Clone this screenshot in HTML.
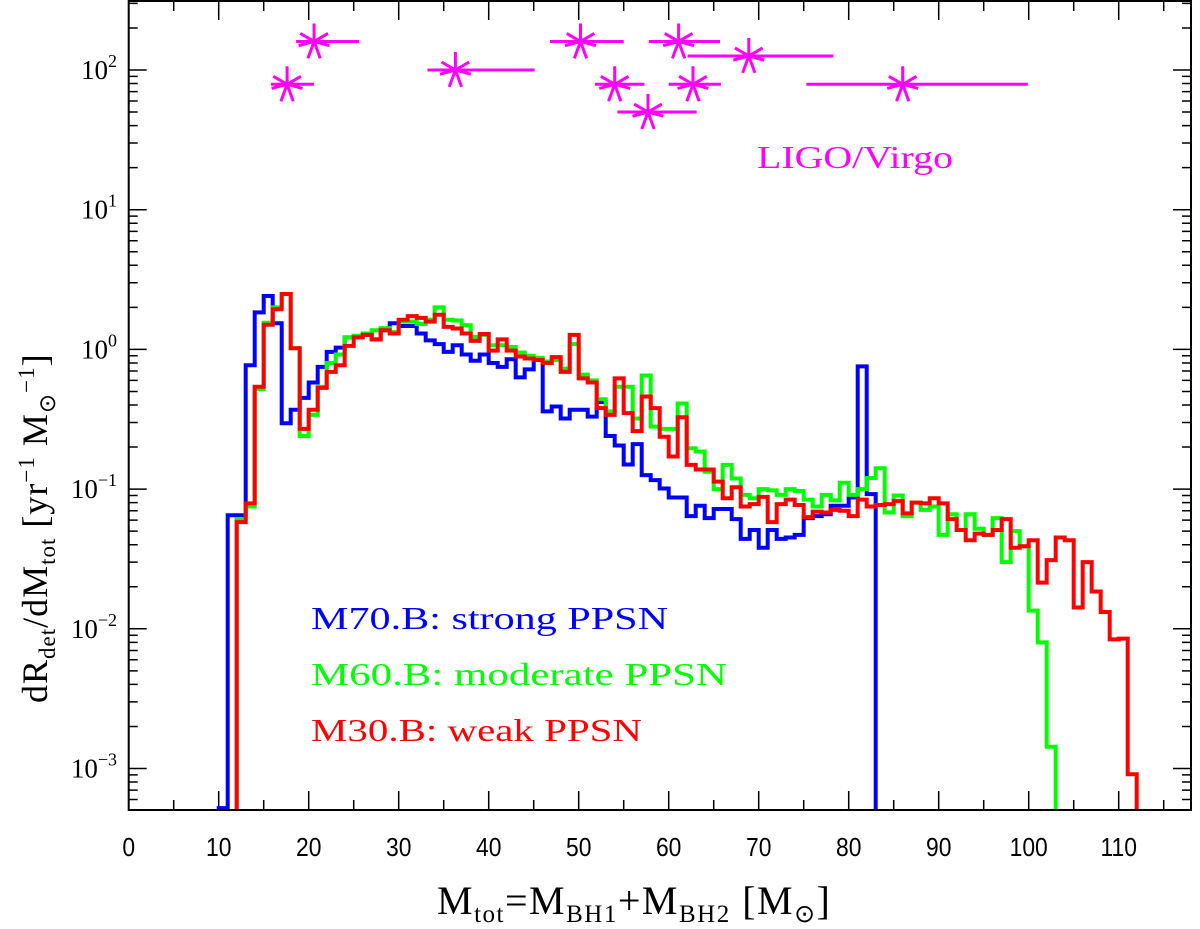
<!DOCTYPE html>
<html><head><meta charset="utf-8"><style>
html,body{margin:0;padding:0;background:#fff;}
svg{display:block;}
</style></head><body>
<svg id="chart" width="1200" height="929" viewBox="0 0 1200 929" xmlns="http://www.w3.org/2000/svg">
  <defs><clipPath id="plotclip"><rect x="128.7" y="1" width="1062.3" height="809"/></clipPath></defs>
  <g id="ticks"></g>
  <g id="series" clip-path="url(#plotclip)"></g>
  <g id="ligo"></g>
  <rect x="128.7" y="1" width="1062.3" height="809" fill="none" stroke="#000" stroke-width="2"/>
  <g id="xlabels" font-family="'Liberation Sans', sans-serif" font-size="26" text-anchor="middle"></g>
  <g id="ylabels" font-family="'Liberation Serif', serif" font-size="27" text-anchor="end"></g>
  <text x="437" y="914" font-family="'Liberation Serif', serif" font-size="40" letter-spacing="1.5">M<tspan font-size="25" dy="8">tot</tspan><tspan dy="-8">=M</tspan><tspan font-size="25" dy="8">BH1</tspan><tspan dy="-8">+M</tspan><tspan font-size="25" dy="8">BH2</tspan><tspan dy="-8">  [M</tspan><tspan font-size="25" dy="8">⊙</tspan><tspan dy="-8">]</tspan></text>
  <text transform="translate(47,703) rotate(-90)" font-family="'Liberation Serif', serif" font-size="36" letter-spacing="1">dR<tspan font-size="23" dy="8">det</tspan><tspan dy="-8">/dM</tspan><tspan font-size="23" dy="8">tot</tspan><tspan dy="-8">  [yr</tspan><tspan font-size="23" dy="-13">−1</tspan><tspan dy="13"> M</tspan><tspan font-size="23" dy="8">⊙</tspan><tspan font-size="23" dy="-21">−1</tspan><tspan dy="13">]</tspan></text>
  <g font-family="'Liberation Serif', serif" font-size="32">
    <text x="311" y="629" fill="#0000ff" textLength="357" lengthAdjust="spacingAndGlyphs">M70.B: strong PPSN</text>
    <text x="311" y="685" fill="#00ff00" textLength="416" lengthAdjust="spacingAndGlyphs">M60.B: moderate PPSN</text>
    <text x="311" y="741" fill="#ff0000" textLength="331" lengthAdjust="spacingAndGlyphs">M30.B: weak PPSN</text>
  </g>
  <text x="757" y="168" fill="#ff00ff" font-family="'Liberation Serif', serif" font-size="32" textLength="196" lengthAdjust="spacingAndGlyphs">LIGO/Virgo</text>
</svg>
<script>
const binStart = 10;
const blueVals = [0.00052,0.065,0.065,0.77,1.84,2.41,1.54,0.296,0.37,0.45,0.58,0.75,0.96,1.03,1.22,1.25,1.27,1.18,1.37,1.54,1.47,1.47,1.3,1.16,1.09,0.96,1.07,0.92,0.83,0.92,0.80,0.75,0.85,0.63,0.72,0.84,0.36,0.39,0.32,0.37,0.37,0.33,0.42,0.24,0.205,0.15,0.21,0.126,0.116,0.101,0.087,0.087,0.064,0.076,0.062,0.072,0.072,0.061,0.044,0.051,0.038,0.051,0.044,0.045,0.047,0.062,0.064,0.066,0.076,0.076,0.087,0.756,0.092];
const greenVals = [0,0,0.061,0.075,0.52,1.55,2.0,2.49,1.02,0.24,0.34,0.54,0.80,0.92,1.22,1.25,1.30,1.37,1.42,1.33,1.58,1.58,1.52,1.63,2.0,1.63,1.61,1.49,1.23,1.27,1.07,1.07,1.04,0.95,0.90,0.87,0.82,0.84,0.73,1.09,0.66,0.60,0.44,0.36,0.54,0.54,0.32,0.65,0.28,0.27,0.27,0.41,0.196,0.186,0.133,0.10,0.149,0.119,0.091,0.086,0.10,0.098,0.091,0.10,0.097,0.084,0.075,0.091,0.083,0.111,0.091,0.10,0.12,0.141,0.068,0.090,0.064,0.080,0.071,0.075,0.047,0.066,0.051,0.066,0.052,0.047,0.062,0.030,0.050,0.039,0.0135,0.0080,0.00143];
const redVals = [0,0,0.058,0.079,0.54,1.50,1.94,2.49,1.02,0.27,0.37,0.53,0.69,0.77,1.06,1.22,1.27,1.18,1.37,1.3,1.63,1.73,1.68,1.58,1.77,1.45,1.41,1.3,1.15,1.29,0.98,1.18,0.98,0.89,0.86,0.84,0.8,0.88,0.69,1.27,0.62,0.58,0.38,0.34,0.62,0.35,0.26,0.46,0.38,0.237,0.171,0.327,0.149,0.138,0.138,0.113,0.086,0.103,0.075,0.078,0.088,0.058,0.078,0.084,0.077,0.063,0.069,0.068,0.071,0.070,0.064,0.084,0.075,0.077,0.078,0.082,0.067,0.080,0.079,0.086,0.079,0.061,0.051,0.043,0.048,0.047,0.051,0.061,0.038,0.039,0.043,0.0214,0.031,0.045,0.043,0.0142,0.030,0.0185,0.0132,0.0084,0.0085,0.00091];
const ligoMass = [17.6,20.6,36.3,50.2,54.0,57.7,61.1,62.7,68.9,86.0];
const ligoRate = [79,160,100,160,79,50,160,79,126,79];
const ligoLo = [15.8,18.6,33.2,46.8,51.8,54.3,57.8,60.0,62.1,75.3];
const ligoHi = [20.6,25.6,45.1,55.0,57.3,63.1,65.7,65.8,78.3,99.9];
const xTicks = [0,10,20,30,40,50,60,70,80,90,100,110];
const yTickExps = [-3,-2,-1,0,1,2];

const NS='http://www.w3.org/2000/svg';
const X0=128.7, PX=9.0, XR=1191, YT=1, YB=810;
const Y2=70, DEC=139.7;
function xs(m){return X0+m*PX;}
function ys(v){return Y2+(2-Math.log10(v))*DEC;}
function mk(tag,attrs,parent){const e=document.createElementNS(NS,tag);for(const k in attrs)e.setAttribute(k,attrs[k]);parent.appendChild(e);return e;}

const tg=document.getElementById('ticks');
let td='';
for(let m=5;m<118;m+=5){const L=(m%10===0)?19:10;const x=xs(m);td+=`M${x} ${YB}V${YB-L}M${x} ${YT}V${YT+L}`;}
for(let e=-4;e<=2;e++){for(let k=1;k<10;k++){const v=k*Math.pow(10,e);const y=ys(v);if(y<YT||y>YB)continue;const L=k===1?18:9;td+=`M${X0} ${y}H${X0+L}M${XR} ${y}H${XR-L}`;}}
const tp=mk('path',{d:td,stroke:'#000','stroke-width':1.5,fill:'none'},tg);



const xl=document.getElementById('xlabels');
xTicks.forEach(t=>{const e=mk('text',{x:xs(t),y:856,transform:`translate(${xs(t)},0) scale(0.88,1) translate(${-xs(t)},0)`},xl);e.textContent=t;

});
const yl=document.getElementById('ylabels');
yTickExps.forEach(p=>{const e=mk('text',{x:117,y:ys(Math.pow(10,p))+9},yl);


e.appendChild(document.createTextNode('10'));const s=mk('tspan',{dy:-12,'font-size':18},e);s.textContent=(p<0?'−':'')+Math.abs(p);});

function stepPath(vals){let d='';let started=false;
  for(let i=0;i<vals.length;i++){const v=vals[i];const m=binStart+i;
    if(!v){continue;}
    const y=ys(v);
    if(!started){d+=`M${xs(m)} ${YB+10}V${y}`;started=true;}else{d+=`V${y}`;}
    d+=`H${xs(m+1)}`;}
  d+=`V${YB+10}`;return d;}
const sg=document.getElementById('series');
[['blue',blueVals,'#0000ff'],['green',greenVals,'#00ff00'],['red',redVals,'#ff0000']].forEach(([n,vals,c])=>{
  const p=mk('path',{d:stepPath(vals),stroke:c,'stroke-width':4,fill:'none','stroke-linejoin':'miter'},sg);
  
  
});

const lg=document.getElementById('ligo');
const angs=[0,60,-60,160,-160,105,-105];
ligoMass.forEach((m,i)=>{const x=xs(m),y=ys(ligoRate[i]);
  const g=mk('g',{stroke:'#ff00ff','stroke-width':3,fill:'none'},lg);
  
  
  let d=`M${xs(ligoLo[i])} ${y}H${xs(ligoHi[i])}`;
  angs.forEach(a=>{const r=(a===0||Math.abs(a)===160)?18:16;const rad=a*Math.PI/180;d+=`M${x} ${y}L${x+r*Math.sin(rad)} ${y-r*Math.cos(rad)}`;});
  mk('path',{d:d},g);
});
</script>
</body></html>
